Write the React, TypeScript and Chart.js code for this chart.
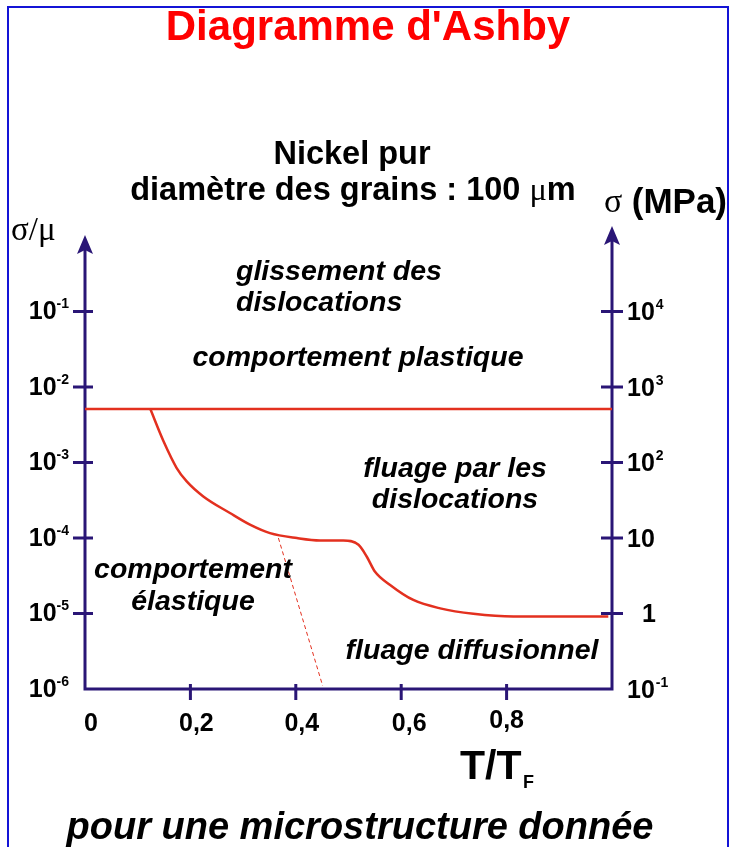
import React, { useEffect, useRef } from 'react';
import { Chart, registerables } from 'chart.js';

Chart.register(...registerables);

// ---- data (T/TF , sigma/mu) ----
const T_MIN = 0;
const T_MAX = 1;
const SIGMA_MIN = 1e-6;
const SIGMA_MAX = 1;

const plasticLimitT = [0, 1];
const plasticLimitSigma = [5.1e-3, 5.1e-3];

const creepBoundaryT = [0.124, 0.149, 0.174, 0.193, 0.2245, 0.275, 0.313, 0.351, 0.402, 0.446, 0.49, 0.519, 0.5345, 0.55, 0.579, 0.623, 0.674, 0.737, 0.813, 0.993];
const creepBoundarySigma = [5.1e-3, 1.91e-3, 8.45e-4, 5.61e-4, 3.55e-4, 2.14e-4, 1.5e-4, 1.16e-4, 9.97e-5, 9.27e-5, 9.27e-5, 8.13e-5, 5.69e-5, 3.6e-5, 2.39e-5, 1.51e-5, 1.17e-5, 9.9e-6, 9.1e-6, 9.1e-6];

const elasticLimitT = [0.367, 0.451];
const elasticLimitSigma = [1.0e-4, 1.1e-6];

const xTickValues = [0, 0.2, 0.4, 0.6, 0.8];
const xTickLabels = ['0', '0,2', '0,4', '0,6', '0,8'];
const yTickValues = [1e-1, 1e-2, 1e-3, 1e-4, 1e-5, 1e-6];
const leftTickBases = ['10', '10', '10', '10', '10', '10'];
const leftTickExponents = ['-1', '-2', '-3', '-4', '-5', '-6'];
const rightTickBases = ['10', '10', '10', '10', '1', '10'];
const rightTickExponents = ['4', '3', '2', '', '', '-1'];

const TITLE = "Diagramme d'Ashby";
const SUBTITLE_1 = 'Nickel pur';
const SUBTITLE_2 = ['diamètre des grains : 100 ', 'μ', 'm'];
const LEFT_AXIS_TITLE = 'σ/μ';
const RIGHT_AXIS_TITLE = ['σ', ' (MPa)'];
const X_AXIS_TITLE = ['T/T', 'F'];
const FOOTER = 'pour une microstructure donnée';
const REGION_LABELS = [
  'glissement des',
  'dislocations',
  'comportement plastique',
  'fluage par les',
  'dislocations',
  'comportement',
  'élastique',
  'fluage diffusionnel',
];

// ---- styles ----
const RED = '#e3301f';
const AXIS = '#2a1676';
const BORDER = '#1414d6';
const SANS = '"Liberation Sans", Arial, Helvetica, sans-serif';
const SERIF = '"Liberation Serif", "Times New Roman", serif';

function text(ctx: CanvasRenderingContext2D, s: string, x: number, y: number, font: string, align: CanvasTextAlign = 'left', color = '#000', baseline: CanvasTextBaseline = 'alphabetic') {
  ctx.font = font;
  ctx.fillStyle = color;
  ctx.textAlign = align;
  ctx.textBaseline = baseline;
  ctx.fillText(s, x, y);
}

function arrowHead(ctx: CanvasRenderingContext2D, x: number, tipY: number) {
  ctx.beginPath();
  ctx.moveTo(x, tipY);
  ctx.lineTo(x - 8, tipY + 19);
  ctx.lineTo(x, tipY + 15);
  ctx.lineTo(x + 8, tipY + 19);
  ctx.closePath();
  ctx.fill();
}

const ashbyPlugin = {
  id: 'ashbyDecor',
  beforeDatasetsDraw(chart: any) {
    const ctx: CanvasRenderingContext2D = chart.ctx;
    const xs = chart.scales.x;
    const ys = chart.scales.y;
    const x0 = xs.getPixelForValue(T_MIN);
    const x1 = xs.getPixelForValue(T_MAX);
    const yb = ys.getPixelForValue(SIGMA_MIN);
    const yt = ys.getPixelForValue(SIGMA_MAX);
    ctx.save();
    // frame
    ctx.strokeStyle = BORDER;
    ctx.lineWidth = 2;
    ctx.strokeRect(8, 7, 720, 900);

    ctx.strokeStyle = AXIS;
    ctx.fillStyle = AXIS;
    ctx.lineWidth = 3;
    ctx.lineCap = 'butt';
    // axes
    ctx.beginPath();
    ctx.moveTo(x0, yt + 14);
    ctx.lineTo(x0, yb);
    ctx.lineTo(x1, yb);
    ctx.lineTo(x1, yt + 5);
    ctx.stroke();
    arrowHead(ctx, x0, yt - 1);
    arrowHead(ctx, x1, yt - 10);
    // ticks
    ctx.beginPath();
    yTickValues.forEach((v) => {
      if (v <= SIGMA_MIN) return;
      const y = ys.getPixelForValue(v);
      ctx.moveTo(x0 - 12, y);
      ctx.lineTo(x0 + 8, y);
      ctx.moveTo(x1 - 11, y);
      ctx.lineTo(x1 + 11, y);
    });
    xTickValues.forEach((v) => {
      if (v <= T_MIN) return;
      const x = xs.getPixelForValue(v);
      ctx.moveTo(x, yb - 5);
      ctx.lineTo(x, yb + 11);
    });
    ctx.stroke();
    ctx.restore();
  },
  afterDraw(chart: any) {
    const ctx: CanvasRenderingContext2D = chart.ctx;
    const xs = chart.scales.x;
    const ys = chart.scales.y;
    const x1 = xs.getPixelForValue(T_MAX);
    const yb = ys.getPixelForValue(SIGMA_MIN);
    ctx.save();

    // Title
    text(ctx, TITLE, 368, 40, `bold 42px ${SANS}`, 'center', '#ff0000');

    // Subtitles
    const subFont = `bold 32.5px ${SANS}`;
    const muFont = `32.5px ${SERIF}`;
    text(ctx, SUBTITLE_1, 352, 164, subFont, 'center');
    ctx.font = subFont;
    const w1 = ctx.measureText(SUBTITLE_2[0]).width;
    const w3 = ctx.measureText(SUBTITLE_2[2]).width;
    ctx.font = muFont;
    const w2 = ctx.measureText(SUBTITLE_2[1]).width;
    const sx = 353 - (w1 + w2 + w3) / 2;
    text(ctx, SUBTITLE_2[0], sx, 200, subFont);
    text(ctx, SUBTITLE_2[1], sx + w1, 200, muFont);
    text(ctx, SUBTITLE_2[2], sx + w1 + w2, 200, subFont);

    // axis titles
    text(ctx, LEFT_AXIS_TITLE, 11, 240, `33px ${SERIF}`);
    text(ctx, RIGHT_AXIS_TITLE[0], 604, 212, `34px ${SERIF}`);
    text(ctx, RIGHT_AXIS_TITLE[1], 622, 213, `bold 35px ${SANS}`);

    // left tick labels
    const baseFont = `bold 25px ${SANS}`;
    const supFont = `bold 14px ${SANS}`;
    yTickValues.forEach((v, i) => {
      const y = ys.getPixelForValue(v);
      ctx.font = supFont;
      const ws = ctx.measureText(leftTickExponents[i]).width;
      ctx.font = baseFont;
      const wb = ctx.measureText(leftTickBases[i]).width;
      const right = 69;
      text(ctx, leftTickBases[i], right - ws - wb, y + 1, baseFont, 'left', '#000', 'middle');
      text(ctx, leftTickExponents[i], right - ws, y - 7, supFont, 'left', '#000', 'middle');
    });
    // right tick labels
    yTickValues.forEach((v, i) => {
      const y = ys.getPixelForValue(v);
      const base = rightTickBases[i];
      const bx = base === '1' ? x1 + 30 : x1 + 15;
      text(ctx, base, bx, y + 2, baseFont, 'left', '#000', 'middle');
      if (rightTickExponents[i]) {
        ctx.font = baseFont;
        const wb = ctx.measureText(base).width;
        text(ctx, rightTickExponents[i], bx + wb + 1, y - 6, supFont, 'left', '#000', 'middle');
      }
    });
    // x tick labels
    const xDx = [6, 6, 6, 8, 0];
    const xDy = [0, 0, 0, 0, -3];
    xTickValues.forEach((v, i) => {
      const x = xs.getPixelForValue(v);
      text(ctx, xTickLabels[i], x + xDx[i], yb + 35 + xDy[i], `bold 25px ${SANS}`, 'center', '#000', 'middle');
    });

    // x axis title
    text(ctx, X_AXIS_TITLE[0], 460, 779, `bold 41px ${SANS}`);
    text(ctx, X_AXIS_TITLE[1], 523, 788, `bold 18px ${SANS}`);

    // region labels
    const rf = `italic bold 28.5px ${SANS}`;
    text(ctx, REGION_LABELS[0], 236, 280, rf, 'left');
    text(ctx, REGION_LABELS[1], 236, 311, rf, 'left');
    text(ctx, REGION_LABELS[2], 358, 366, rf, 'center');
    text(ctx, REGION_LABELS[3], 455, 477, rf, 'center');
    text(ctx, REGION_LABELS[4], 455, 508, rf, 'center');
    text(ctx, REGION_LABELS[5], 193, 578, rf, 'center');
    text(ctx, REGION_LABELS[6], 193, 610, rf, 'center');
    text(ctx, REGION_LABELS[7], 472, 659, rf, 'center');

    // footer
    text(ctx, FOOTER, 360, 839, `italic bold 38px ${SANS}`, 'center');
    ctx.restore();
  },
};

export default function App() {
  const ref = useRef<HTMLCanvasElement | null>(null);
  useEffect(() => {
    document.body.style.margin = '0';
    const canvas = ref.current;
    if (!canvas) return;
    const pts = (xs: number[], ys: number[]) => xs.map((x, i) => ({ x, y: ys[i] }));
    const chart = new Chart(canvas, {
      type: 'line',
      data: {
        datasets: [
          {
            data: pts(plasticLimitT, plasticLimitSigma),
            borderColor: RED,
            borderWidth: 2.5,
            pointRadius: 0,
            fill: false,
            clip: false,
          } as any,
          {
            data: pts(creepBoundaryT, creepBoundarySigma),
            borderColor: RED,
            borderWidth: 2.5,
            pointRadius: 0,
            cubicInterpolationMode: 'monotone',
            fill: false,
            clip: false,
          } as any,
          {
            data: pts(elasticLimitT, elasticLimitSigma),
            borderColor: RED,
            borderWidth: 1,
            borderDash: [4, 3],
            pointRadius: 0,
            fill: false,
            clip: false,
          } as any,
        ],
      },
      options: {
        responsive: false,
        maintainAspectRatio: false,
        animation: false,
        devicePixelRatio: 1,
        layout: { padding: { left: 85, right: 122, top: 236, bottom: 158 } },
        plugins: { legend: { display: false }, tooltip: { enabled: false }, title: { display: false } },
        scales: {
          x: { type: 'linear', min: T_MIN, max: T_MAX, display: false },
          y: { type: 'logarithmic', min: SIGMA_MIN, max: SIGMA_MAX, display: false },
        },
        events: [],
      },
      plugins: [ashbyPlugin],
    });
    return () => chart.destroy();
  }, []);
  return <canvas ref={ref} width={734} height={847} style={{ display: 'block' }} />;
}
